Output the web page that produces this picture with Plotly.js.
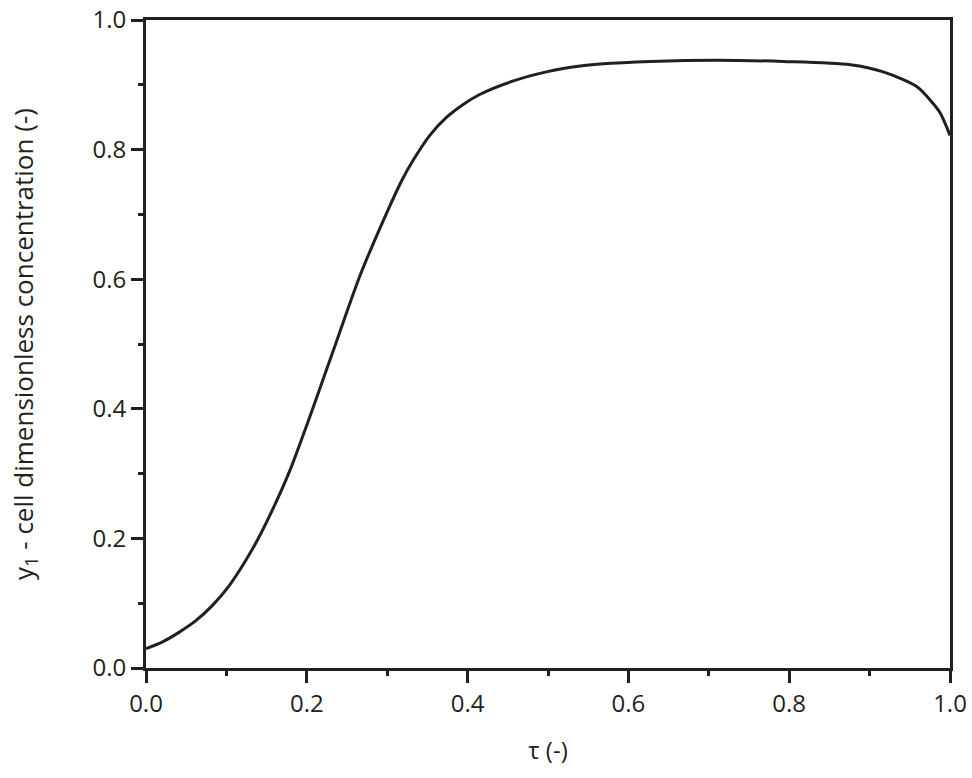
<!DOCTYPE html>
<html>
<head>
<meta charset="utf-8">
<script src="https://cdn.plot.ly/plotly-3.0.1.min.js"></script>
<style>html,body{margin:0;padding:0;background:#fff;}#chart{width:972px;height:778px;}</style>
</head>
<body>
<div id="chart"></div>
<script>
const tau = [0.0, 0.020, 0.041, 0.062, 0.083, 0.104, 0.124, 0.138, 0.158, 0.179, 0.198, 0.211, 0.233, 0.266, 0.295, 0.318, 0.333, 0.353, 0.374, 0.395, 0.415, 0.457, 0.498, 0.540, 0.565, 0.627, 0.710, 0.793, 0.876, 0.917, 0.959, 0.979, 0.988, 1.0];
const y1  = [0.030, 0.040, 0.055, 0.073, 0.097, 0.128, 0.166, 0.196, 0.246, 0.305, 0.368, 0.413, 0.490, 0.605, 0.690, 0.752, 0.785, 0.822, 0.850, 0.870, 0.885, 0.906, 0.920, 0.929, 0.932, 0.936, 0.938, 0.936, 0.931, 0.920, 0.897, 0.871, 0.856, 0.822];

const ink = '#231f20';
const fam = '"Open Sans", "Noto Sans", sans-serif';
const tickFont = {family: fam, size: 24, color: ink};
const titleFont = {family: fam, size: 26, color: ink};

const trace = {
  x: tau, y: y1, type: 'scatter', mode: 'lines',
  line: {color: ink, width: 3, shape: 'spline', smoothing: 0.8},
  hoverinfo: 'skip'
};

const axisCommon = {
  showline: true, linecolor: ink, linewidth: 3, mirror: true,
  ticks: 'outside', ticklen: 12, tickwidth: 3, tickcolor: ink,
  showgrid: false, zeroline: false,
  tickfont: tickFont, tickformat: '.1f',
  minor: {ticks: 'outside', ticklen: 5, tickwidth: 3, tickcolor: ink, dtick: 0.1, showgrid: false}
};

const layout = {
  width: 972, height: 778,
  margin: {l: 146, r: 22, t: 20, b: 110},
  paper_bgcolor: '#fff', plot_bgcolor: '#fff',
  showlegend: false,
  font: tickFont,
  xaxis: Object.assign({}, axisCommon, {
    range: [0, 1], dtick: 0.2, tick0: 0,
    title: {text: 'τ (-)', font: {family: fam, size: 24, color: ink}, standoff: 25}
  }),
  yaxis: Object.assign({}, axisCommon, {
    range: [0, 1], dtick: 0.2, tick0: 0,
    title: {text: 'y<sub>1</sub> - cell dimensionless concentration (-)', font: titleFont, standoff: 52}
  })
};

Plotly.newPlot('chart', [trace], layout, {staticPlot: true, displayModeBar: false});
</script>
</body>
</html>
